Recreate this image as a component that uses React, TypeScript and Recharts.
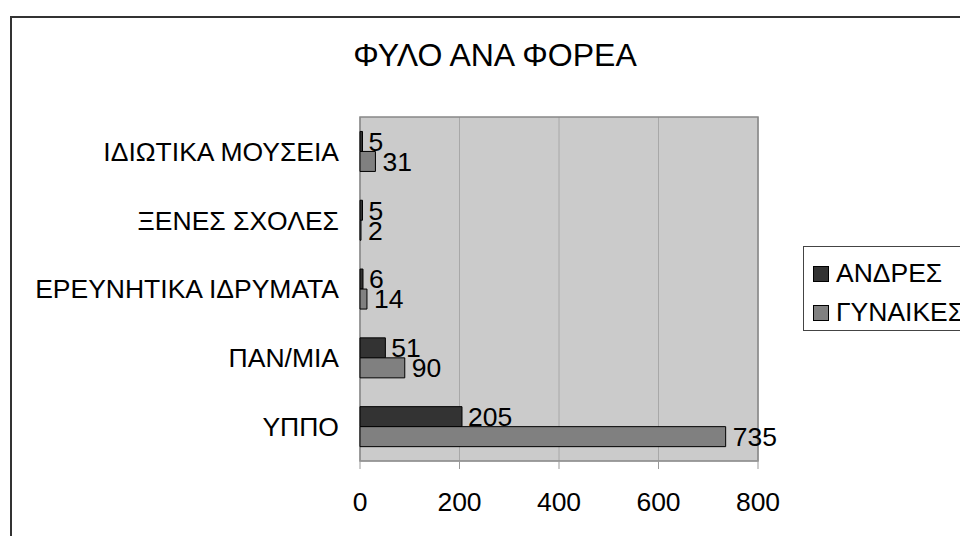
import React from 'react';
import {
  BarChart,
  Bar,
  XAxis,
  YAxis,
  CartesianGrid,
  Legend,
  LabelList,
  ReferenceArea,
} from 'recharts';

const categories = [
  'ΙΔΙΩΤΙΚΑ ΜΟΥΣΕΙΑ',
  'ΞΕΝΕΣ ΣΧΟΛΕΣ',
  'ΕΡΕΥΝΗΤΙΚΑ ΙΔΡΥΜΑΤΑ',
  'ΠΑΝ/ΜΙΑ',
  'ΥΠΠΟ',
];
const men = [5, 5, 6, 51, 205];
const women = [31, 2, 14, 90, 735];
const xTicks = [0, 200, 400, 600, 800];

const MEN_COLOR = '#333333';
const WOMEN_COLOR = '#808080';
const FONT = '"Liberation Sans", Arial, sans-serif';
const FS = 26.5;

const data = categories.map((name, i) => ({
  name,
  men: men[i],
  women: women[i],
}));

function LegendBox() {
  const items = [
    { label: 'ΑΝΔΡΕΣ', color: MEN_COLOR },
    { label: 'ΓΥΝΑΙΚΕΣ', color: WOMEN_COLOR },
  ];
  return (
    <div
      style={{
        border: '1.5px solid #444',
        width: 200,
        height: 85,
        boxSizing: 'border-box',
        padding: '7px 0 0 9px',
        background: '#fff',
        textAlign: 'left',
      }}
    >
      {items.map((it) => (
        <div
          key={it.label}
          style={{ display: 'flex', alignItems: 'center', height: 39, fontSize: FS, fontFamily: FONT, color: '#000' }}
        >
          <span
            style={{
              display: 'inline-block',
              width: 14,
              height: 14,
              background: it.color,
              border: '1px solid #000',
              marginRight: 7,
            }}
          />
          {it.label}
        </div>
      ))}
    </div>
  );
}

export default function App() {
  return (
    <div
      style={{
        position: 'fixed',
        left: 0,
        top: 0,
        width: 960,
        height: 536,
        overflow: 'hidden',
        background: '#fff',
        fontFamily: FONT,
      }}
    >
      <div
        style={{
          position: 'absolute',
          left: 10,
          top: 16,
          width: 1000,
          height: 600,
          border: '2px solid #333',
        }}
      />
      <div
        style={{
          position: 'absolute',
          left: 0,
          width: 990,
          top: 37,
          textAlign: 'center',
          fontSize: 32,
          color: '#000',
        }}
      >
        ΦΥΛΟ ΑΝΑ ΦΟΡΕΑ
      </div>
      <div style={{ position: 'absolute', left: 0, top: 0 }}>
        <BarChart
          width={960}
          height={536}
          data={data}
          layout="vertical"
          margin={{ top: 117, right: 202, bottom: 0, left: 0 }}
          barCategoryGap="21%"
          barGap={0}
        >
          <CartesianGrid horizontal={false} stroke="#a8a8a8" fill="#cbcbcb" />
          <XAxis
            type="number"
            domain={[0, 800]}
            ticks={xTicks}
            height={75}
            tickSize={8}
            tickMargin={23}
            stroke="#999"
            tick={{ fill: '#000', fontSize: FS, fontFamily: FONT }}
          />
          <YAxis
            type="category"
            dataKey="name"
            width={360}
            tickLine={false}
            axisLine={false}
            tickSize={8}
            tickMargin={13}
            tick={{ fill: '#000', fontSize: FS, fontFamily: FONT }}
          />
          <ReferenceArea x1={0} x2={800} fill="none" stroke="#888" strokeWidth={1.5} ifOverflow="visible" />
          <Bar dataKey="men" name="ΑΝΔΡΕΣ" fill={MEN_COLOR} stroke="#000" strokeWidth={1} isAnimationActive={false}>
            <LabelList dataKey="men" position="right" offset={6} style={{ fontSize: FS, fill: '#000', fontFamily: FONT }} />
          </Bar>
          <Bar dataKey="women" name="ΓΥΝΑΙΚΕΣ" fill={WOMEN_COLOR} stroke="#000" strokeWidth={1} isAnimationActive={false}>
            <LabelList dataKey="women" position="right" offset={7} style={{ fontSize: FS, fill: '#000', fontFamily: FONT }} />
          </Bar>
          <Legend
            layout="horizontal"
            verticalAlign="middle"
            align="center"
            content={() => <LegendBox />}
            wrapperStyle={{ position: 'absolute', left: 803, top: 246, width: 200 }}
          />
        </BarChart>
      </div>
    </div>
  );
}
